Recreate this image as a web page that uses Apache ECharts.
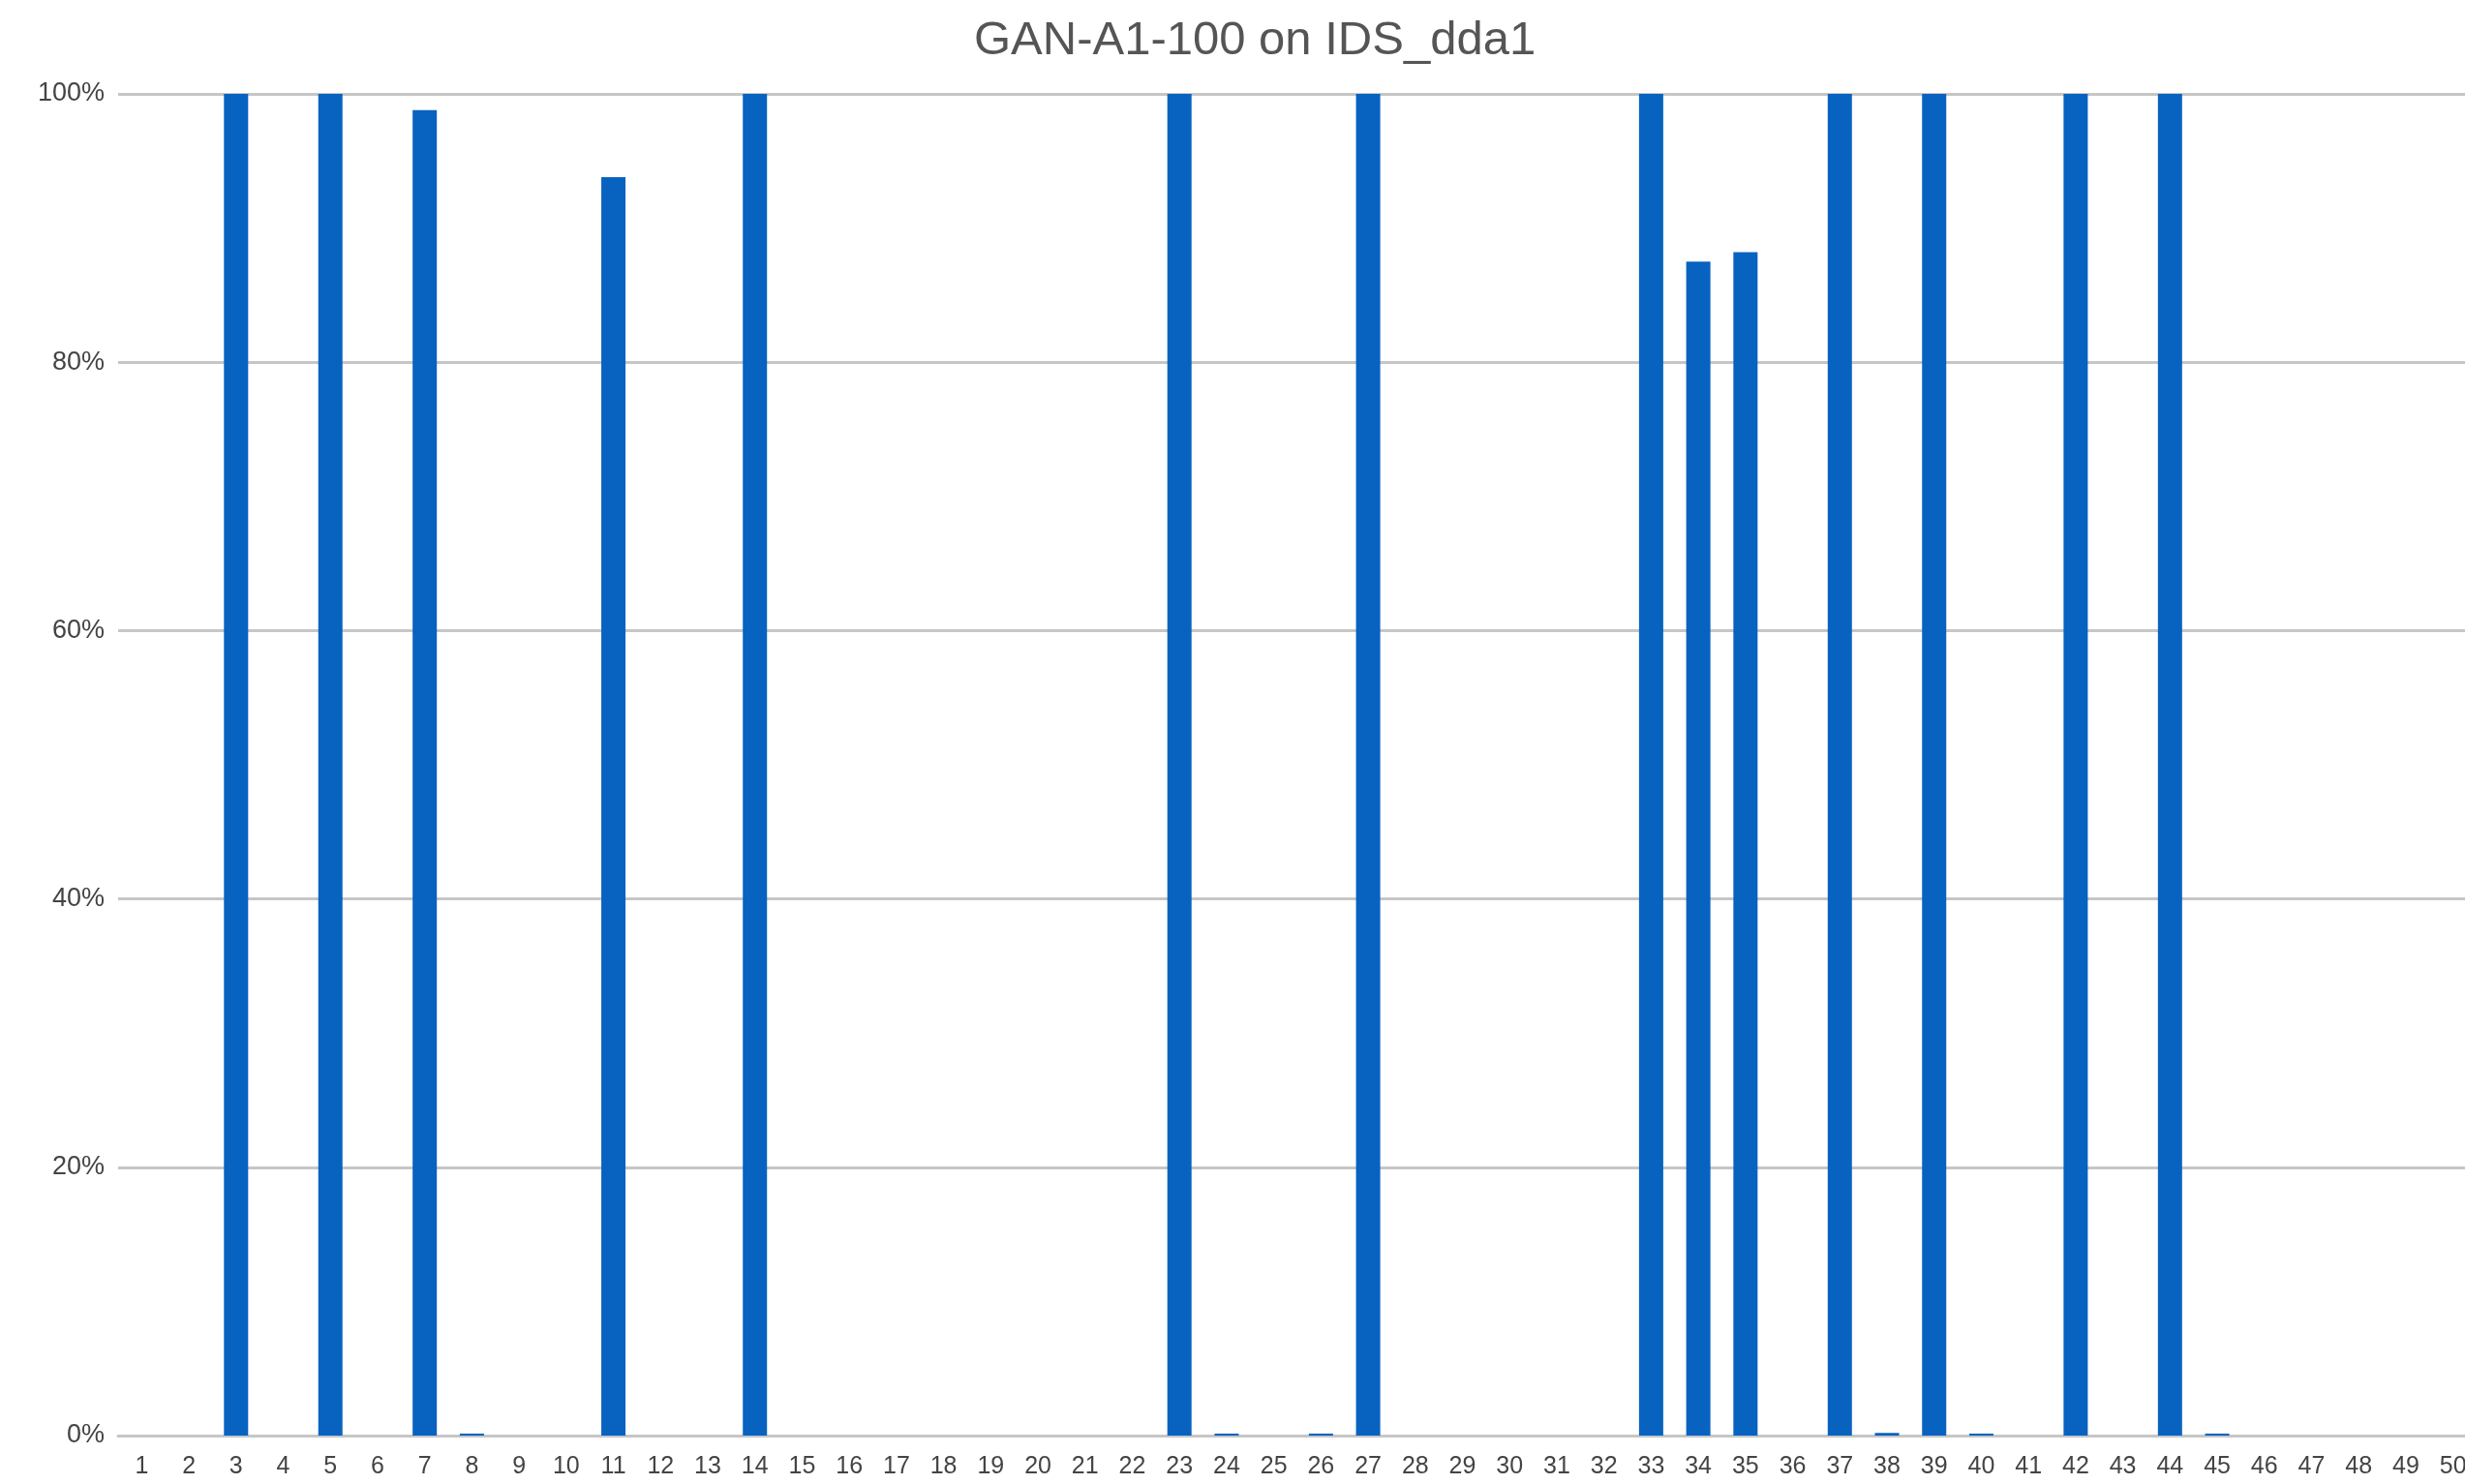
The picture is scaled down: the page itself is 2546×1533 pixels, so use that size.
<!DOCTYPE html>
<html>
<head>
<meta charset="utf-8">
<script src="https://cdn.jsdelivr.net/npm/echarts@6/dist/echarts.min.js"></script>
<style>
  html, body { margin: 0; padding: 0; background: #fff; }
  #chart1 { width: 2546px; height: 1533px; }
</style>
</head>
<body>
<div id="chart1"></div>
<script>
// run numbers on the x axis
var runs = ['1','2','3','4','5','6','7','8','9','10',
            '11','12','13','14','15','16','17','18','19','20',
            '21','22','23','24','25','26','27','28','29','30',
            '31','32','33','34','35','36','37','38','39','40',
            '41','42','43','44','45','46','47','48','49','50'];

// detection rate in percent, one per run
var rates = [0, 0, 100, 0, 100, 0, 98.8, 0.15, 0, 0,
             93.8, 0, 0, 100, 0, 0, 0, 0, 0, 0,
             0, 0, 100, 0.15, 0, 0.15, 100, 0, 0, 0,
             0, 0, 100, 87.5, 88.2, 0, 100, 0.2, 100, 0.15,
             0, 100, 0, 100, 0.15, 0, 0, 0, 0, 0];

var yTicks = [0, 20, 40, 60, 80, 100];

var chart1 = echarts.init(document.getElementById('chart1'));

var option1 = {
    animation: false,
    backgroundColor: '#fff',
    title: {
        text: 'GAN-A1-100 on IDS_dda1',
        left: 1001,
        top: 13,
        textStyle: {
            color: '#555',
            fontSize: 49,
            fontWeight: 'normal',
            fontFamily: 'Liberation Sans'
        }
    },
    grid: {
        left: 122,
        width: 2436,   // plot runs past the right edge, "50" gets cut
        top: 97,
        bottom: 50,
        outerBoundsMode: 'none'
    },
    xAxis: {
        type: 'category',
        data: runs,
        axisLine: {
            lineStyle: { color: '#c6c6c6', width: 3 }
        },
        axisTick: { show: false },
        axisLabel: {
            interval: 0,
            margin: 20,
            color: '#444',
            fontSize: 25,
            fontFamily: 'Liberation Sans'
        }
    },
    yAxis: {
        type: 'value',
        min: yTicks[0],
        max: yTicks[yTicks.length - 1],
        interval: 20,
        axisLine: { show: false },
        axisTick: { show: false },
        axisLabel: {
            formatter: '{value}%',
            margin: 14,
            color: '#444',
            fontSize: 27,
            fontFamily: 'Liberation Sans'
        },
        splitLine: {
            lineStyle: { color: '#c6c6c6', width: 3 }
        }
    },
    series: [{
        name: 'rate',
        type: 'bar',
        data: rates,
        barWidth: 25,
        itemStyle: {
            color: '#0862c0'
        }
    }]
};
chart1.setOption(option1);
</script>
</body>
</html>
